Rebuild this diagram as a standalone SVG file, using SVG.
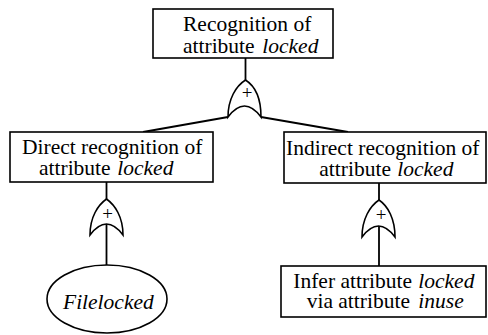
<svg xmlns="http://www.w3.org/2000/svg" width="488" height="335" viewBox="0 0 488 335">
<style>
.box{fill:#fff;stroke:#000;stroke-width:1.6}
.gate{fill:#fff;stroke:#000;stroke-width:1.6}
.ln{stroke:#000;stroke-width:1.8;fill:none}
text{font-family:"Liberation Serif","Times New Roman",serif;font-size:21.5px;fill:#000}
.it{font-style:italic}
.plus{font-size:19px}
</style>
<rect width="488" height="335" fill="#fff"/>
<g id="connectors">
<line class="ln" x1="245.5" y1="58" x2="245.5" y2="82"/>
<line class="ln" x1="228" y1="117" x2="143" y2="132"/>
<line class="ln" x1="261" y1="117" x2="348" y2="132"/>
<line class="ln" x1="106.5" y1="182" x2="106.5" y2="265"/>
<line class="ln" x1="379" y1="183" x2="379" y2="266"/>
</g>
<g id="gate-top">
<path class="gate" d="M228 117 C228 99 236 86 245.5 80 C255 86 261 99 261 117 Q244.5 95 228 117 Z"/>
<text class="plus" x="247" y="99" text-anchor="middle">+</text>
</g>
<g id="gate-left">
<path class="gate" d="M90 235 C90 217 98 205 106.5 199 C115 205 123 217 123 235 Q106.5 213 90 235 Z"/>
<text class="plus" x="107.5" y="220" text-anchor="middle">+</text>
</g>
<g id="gate-right">
<path class="gate" d="M362 237 C362 219 370 206 379 200 C388 206 395 219 395 237 Q378.5 215 362 237 Z"/>
<text class="plus" x="381" y="221" text-anchor="middle">+</text>
</g>
<g id="n-root">
<rect class="box" x="153" y="9" width="180" height="49"/>
<text x="183" y="31">Recognition of</text>
<text x="183" y="52.5">attribute<tspan class="it" x="262.3">locked</tspan></text>
</g>
<g id="n-direct">
<rect class="box" x="10" y="132" width="203" height="50"/>
<text x="22" y="153.5">Direct recognition of</text>
<text x="39" y="174.5">attribute<tspan class="it" x="117.3">locked</tspan></text>
</g>
<g id="n-indirect">
<rect class="box" x="284" y="132" width="202" height="51"/>
<text x="286" y="155">Indirect recognition of</text>
<text x="319.3" y="176">attribute<tspan class="it" x="397.3">locked</tspan></text>
</g>
<g id="n-filelocked">
<ellipse class="box" cx="107" cy="299" rx="60" ry="34"/>
<text class="it" x="63" y="309">Filelocked</text>
</g>
<g id="n-infer">
<rect class="box" x="281" y="266" width="205" height="51"/>
<text x="293.3" y="288.3">Infer attribute<tspan class="it" x="418.3">locked</tspan></text>
<text x="306.7" y="307.5">via attribute<tspan class="it" x="418.3">inuse</tspan></text>
</g>
</svg>
